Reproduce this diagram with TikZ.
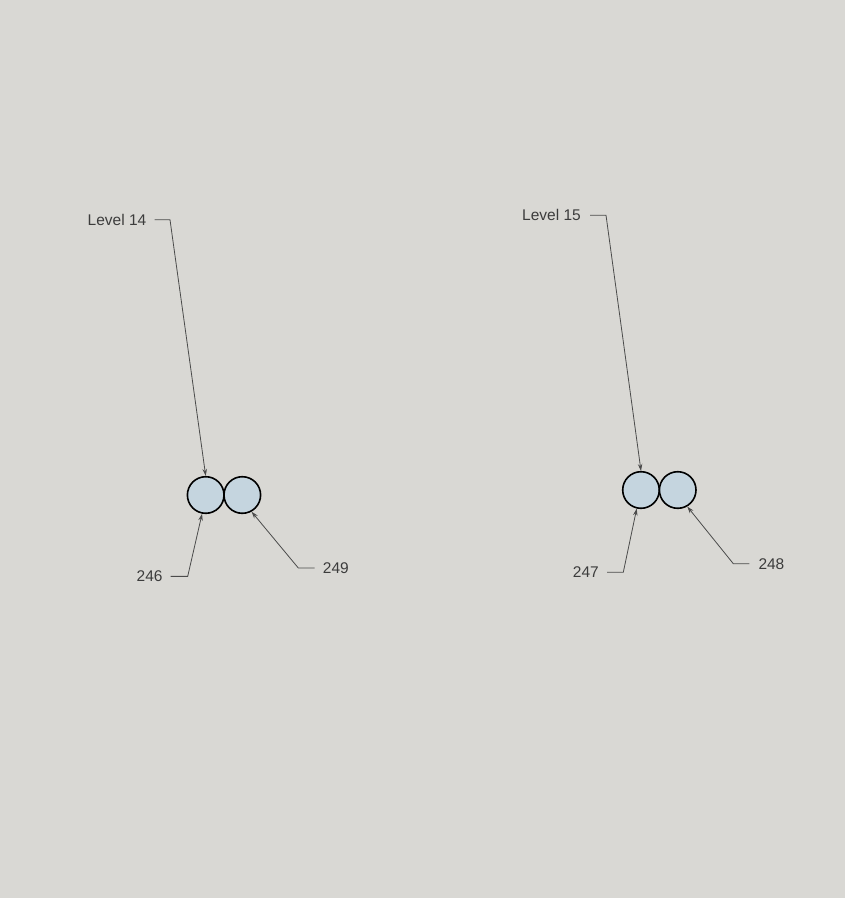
\documentclass[tikz,border=0pt]{standalone}
\usepackage{fontspec}
\setmainfont{Liberation Sans}
\usetikzlibrary{arrows.meta}
\definecolor{bgcol}{RGB}{217,216,212}
\definecolor{ringfill}{RGB}{197,213,223}
\definecolor{inkcol}{RGB}{60,60,60}
\definecolor{leadcol}{RGB}{75,75,75}
\tikzset{
  ring/.style={draw=black, line width=1.6pt, fill=ringfill, circle, minimum size=36.6pt, inner sep=0pt},
  tag/.style={inner sep=0pt, text=inkcol, font=\fontsize{15.5}{18}\selectfont},
  leader/.style={draw=leadcol, line width=0.8pt, -{Stealth[length=7pt,width=4.5pt]}}
}
\begin{document}
\begin{tikzpicture}[x=1pt, y=-1pt]
      \fill[bgcol] (0,0) rectangle (845,898);
      \useasboundingbox (0,0) rectangle (845,898);

      % Level 14 pair
      \node[ring] (c14a) at (205.7,495) {};
      \node[ring] (c14b) at (242.3,495) {};
      \node[tag, anchor=base east] (l14) at (146.5,225.3) {Level 14};
      \node[tag, anchor=base east] (n246) at (162.7,581.7) {246};
      \node[tag, anchor=base west] (n249) at (322.7,573.3) {249};

      % Level 15 pair
      \node[ring] (c15a) at (641,490) {};
      \node[ring] (c15b) at (677.7,490) {};
      \node[tag, anchor=base east] (l15) at (581,220.7) {Level 15};
      \node[tag, anchor=base east] (n247) at (599,577.7) {247};
      \node[tag, anchor=base west] (n248) at (758.3,569) {248};

      % Leaders
      \draw[leader] ([xshift=8pt]l14.east) -- ([xshift=23.5pt]l14.east) -- (c14a.north);
      \draw[leader] ([xshift=8pt]n246.east) -- ([xshift=25pt]n246.east) -- (c14a.259);
      \draw[leader] ([xshift=-8pt]n249.west) -- ([xshift=-24.4pt]n249.west) -- (c14b.299);
      \draw[leader] ([xshift=9pt]l15.east) -- ([xshift=25pt]l15.east) -- (c15a.north);
      \draw[leader] ([xshift=8pt]n247.east) -- ([xshift=24.3pt]n247.east) -- (c15a.257);
      \draw[leader] ([xshift=-9pt]n248.west) -- ([xshift=-25pt]n248.west) -- (c15b.300);
\end{tikzpicture}
\end{document}
